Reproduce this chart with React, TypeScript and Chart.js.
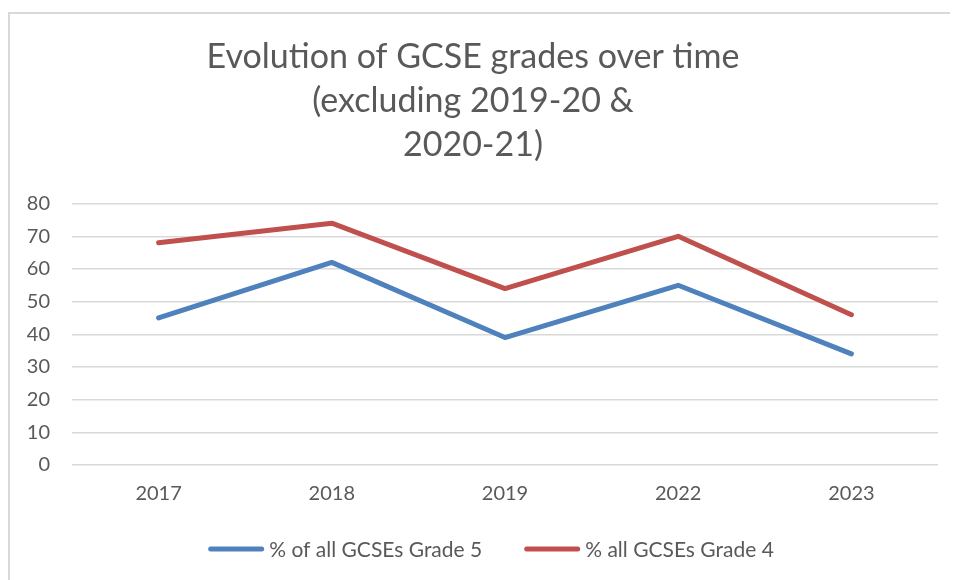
import React, { useEffect, useRef } from "react";
import { Chart, registerables } from "chart.js";

Chart.register(...registerables);

const categories = ["2017", "2018", "2019", "2022", "2023"];
const grade5 = [45, 62, 39, 55, 34];
const grade4 = [68, 74, 54, 70, 46];
const seriesNames = ["% of all GCSEs Grade 5", "% all GCSEs Grade 4"];
const titleLines = ["Evolution of GCSE grades over time", "(excluding 2019-20 &", "2020-21)"];

const FONT = "Lato, 'Open Sans', sans-serif";
const GREY = "#595959";

const customLegend = {
  id: "customLegend",
  afterDraw(chart: any) {
    const ctx = chart.ctx;
    const ds = chart.data.datasets;
    ctx.save();
    ctx.font = `21px ${FONT}`;
    const lineW = 56;
    const gapText = 5;
    const gapItem = 42;
    const widths = ds.map((d: any) => ctx.measureText(d.label).width);
    let total = 0;
    widths.forEach((w: number, i: number) => {
      total += lineW + gapText + w + (i < widths.length - 1 ? gapItem : 0);
    });
    const centerX = chart.width / 2 + 8;
    const y = chart.height - 31;
    let x = centerX - total / 2;
    ds.forEach((d: any, i: number) => {
      ctx.strokeStyle = d.borderColor;
      ctx.lineWidth = 5;
      ctx.lineCap = "round";
      ctx.beginPath();
      ctx.moveTo(x + 2.5, y);
      ctx.lineTo(x + lineW - 2.5, y);
      ctx.stroke();
      ctx.fillStyle = GREY;
      ctx.textBaseline = "middle";
      ctx.textAlign = "left";
      ctx.fillText(d.label, x + lineW + gapText, y + 1);
      x += lineW + gapText + widths[i] + gapItem;
    });
    ctx.restore();
  },
};

export default function App() {
  const ref = useRef<HTMLCanvasElement | null>(null);
  useEffect(() => {
    if (!ref.current) return;
    const chart = new Chart(ref.current, {
      type: "line",
      data: {
        labels: categories,
        datasets: [
          {
            label: seriesNames[0],
            data: grade5,
            borderColor: "#4F81BD",
            backgroundColor: "#4F81BD",
            borderWidth: 5,
            borderCapStyle: "round",
            borderJoinStyle: "round",
            pointRadius: 0,
            tension: 0,
          },
          {
            label: seriesNames[1],
            data: grade4,
            borderColor: "#C0504D",
            backgroundColor: "#C0504D",
            borderWidth: 5,
            borderCapStyle: "round",
            borderJoinStyle: "round",
            pointRadius: 0,
            tension: 0,
          },
        ],
      },
      plugins: [customLegend],
      options: {
        responsive: true,
        maintainAspectRatio: false,
        animation: false,
        layout: { padding: { top: 0, right: 20, bottom: 57, left: 0 } },
        plugins: {
          title: {
            display: true,
            text: titleLines,
            color: GREY,
            font: { family: FONT, size: 34, weight: "normal", lineHeight: 1.3 },
            padding: { top: 27, bottom: 36 },
          },
          legend: { display: false },
          tooltip: { enabled: false },
        },
        scales: {
          x: {
            offset: true,
            grid: { display: false, drawTicks: false },
            border: { display: false },
            ticks: { color: GREY, font: { family: FONT, size: 20 }, padding: 17 },
          },
          y: {
            min: 0,
            max: 80,
            ticks: { stepSize: 10, color: GREY, font: { family: FONT, size: 20 }, padding: 22 },
            grid: { color: "#d9d9d9", lineWidth: 1.5, drawTicks: false },
            border: { display: false },
            afterFit: (s: any) => {
              s.width = 64;
            },
          },
        },
      },
    });
    return () => chart.destroy();
  }, []);

  return (
    <div style={{ position: "relative", width: 950, height: 572, overflow: "hidden" }}>
      <div
        style={{
          position: "absolute",
          left: 0,
          top: 4,
          width: 980,
          height: 600,
          borderLeft: "2px solid #d9d9d9",
          borderTop: "2px solid #d9d9d9",
          boxSizing: "border-box",
        }}
      />
      <div style={{ position: "absolute", left: 0, top: 0, width: 950, height: 572 }}>
        <canvas ref={ref} />
      </div>
    </div>
  );
}
